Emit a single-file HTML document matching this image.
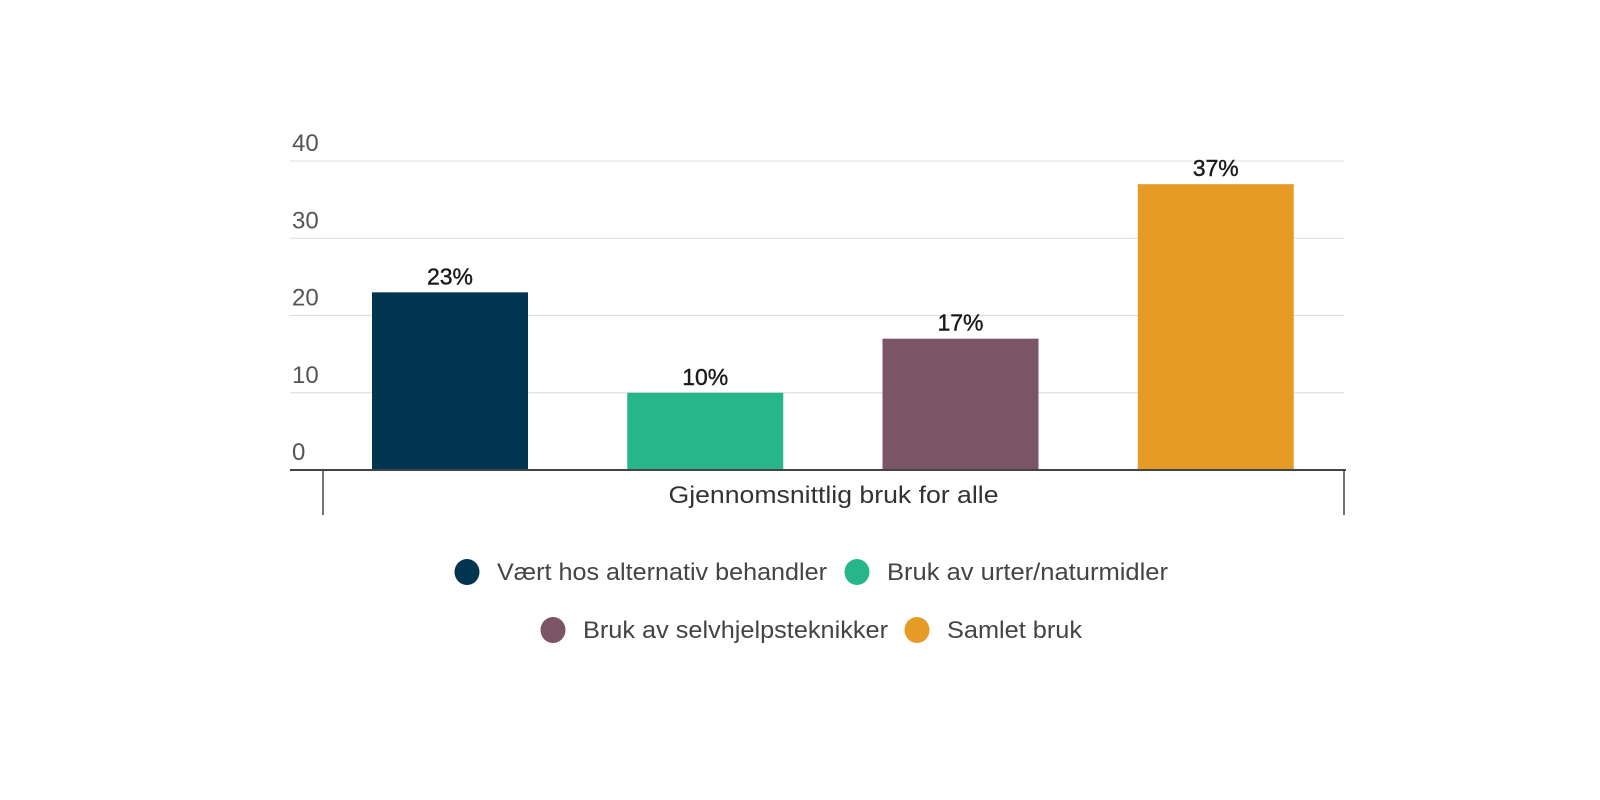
<!DOCTYPE html>
<html><head><meta charset="utf-8"><style>
html,body{margin:0;padding:0;background:#fff;}
svg{display:block;font-family:"Liberation Sans",sans-serif;}
</style></head><body>
<svg id="chart" width="1600" height="800"></svg>
<script>
const categories = ["Vært hos alternativ behandler","Bruk av urter/naturmidler","Bruk av selvhjelpsteknikker","Samlet bruk"];
const values = [23, 10, 17, 37];
const valueLabels = ["23%","10%","17%","37%"];
const colors = ["#023550","#27b58a","#7b5466","#e59b25"];
const yTicks = [0,10,20,30,40];
const yTickLabels = ["0","10","20","30","40"];
const xCategory = "Gjennomsnittlig bruk for alle";

const NS="http://www.w3.org/2000/svg";
const svg=document.getElementById('chart');
const plotL=323, plotR=1344, y0=470, y40=161;
function y(v){return y0-(v/40)*(y0-y40);}
const band=(plotR-plotL)/values.length;
function bx(i){return plotL+band*i+49;}
const bw=156;
function mk(tag,attrs,txt){const e=document.createElementNS(NS,tag);for(const k in attrs)e.setAttribute(k,attrs[k]);if(txt!==undefined)e.textContent=txt;svg.appendChild(e);return e;}

yTicks.forEach((t,i)=>{
  if(t!==0){
    const g=mk('line',{x1:290,x2:plotR,y1:y(t),y2:y(t),stroke:'#dcdcdc','stroke-width':1});
    
    
  }
  const l=mk('text',{x:292,y:y(t)-10,'font-size':24,fill:'#555'},yTickLabels[i]);
  
  
});

values.forEach((v,i)=>{
  const r=mk('rect',{x:bx(i),y:y(v),width:bw,height:y0-y(v),fill:colors[i]});
  
  
  const t=mk('text',{x:bx(i)+bw/2,y:y(v)-8,'font-size':23,fill:'#1a1a1a','text-anchor':'middle','stroke':'#1a1a1a','stroke-width':0.4},valueLabels[i]);
  
  
});

const ax=mk('line',{x1:290,x2:plotR+2,y1:y0,y2:y0,stroke:'#444','stroke-width':2});


[plotL,plotR].forEach((x,i)=>{
  const tk=mk('line',{x1:x,x2:x,y1:y0,y2:515,stroke:'#444','stroke-width':1.5});
  
  
});
const cl=mk('text',{x:(plotL+plotR)/2,y:503,'font-size':24,fill:'#333','text-anchor':'middle',textLength:330,lengthAdjust:'spacingAndGlyphs'},xCategory);



const legPos=[[467,572,497,330],[857,572,887,281],[553,630,583,305],[917,630,947,135]];
categories.forEach((c,i)=>{
  const p=legPos[i];
  const g=document.createElementNS(NS,'g');
  
  
  svg.appendChild(g);
  const ci=document.createElementNS(NS,'ellipse');
  ci.setAttribute('cx',p[0]);ci.setAttribute('cy',p[1]);ci.setAttribute('rx',12.5);ci.setAttribute('ry',13);ci.setAttribute('fill',colors[i]);
  
  
  g.appendChild(ci);
  const t=document.createElementNS(NS,'text');
  t.setAttribute('x',p[2]);t.setAttribute('y',p[1]+8);t.setAttribute('font-size',24);t.setAttribute('fill','#444');
  t.setAttribute('textLength',p[3]);t.setAttribute('lengthAdjust','spacingAndGlyphs');
  t.textContent=c;
  
  
  g.appendChild(t);
});
</script>
</body></html>
